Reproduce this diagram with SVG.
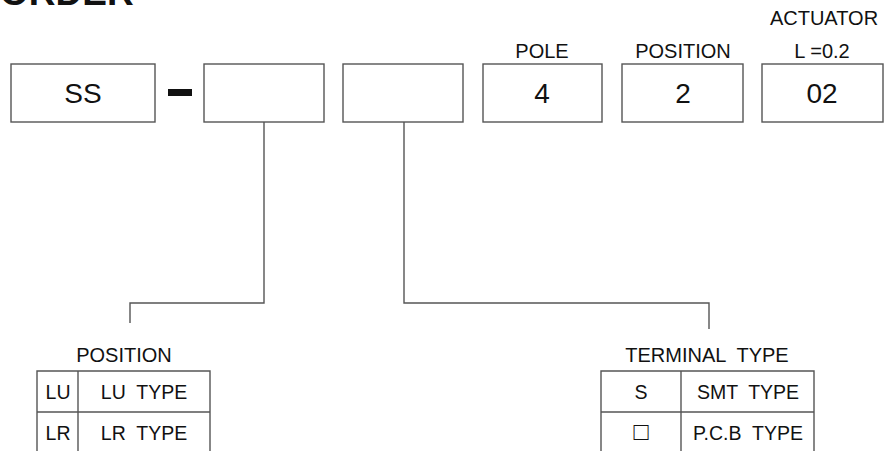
<svg xmlns="http://www.w3.org/2000/svg" width="885" height="451" viewBox="0 0 885 451">
<style>
.box{fill:#fff;stroke:#555;stroke-width:1.4}
.ln{fill:none;stroke:#555;stroke-width:1.4}
.big{font-family:"Liberation Sans",Arial,sans-serif;font-size:28px;fill:#111;text-anchor:middle}
.lbl{font-family:"Liberation Sans",Arial,sans-serif;font-size:20px;fill:#111;text-anchor:middle}
.tb{font-family:"Liberation Sans",Arial,sans-serif;font-size:19.5px;fill:#111;text-anchor:middle}
</style>
<rect width="885" height="451" fill="#fff"/>
<text x="0" y="5" font-family="Liberation Sans,Arial,sans-serif" font-size="37" font-weight="bold" fill="#111">ORDER</text>
<g id="box-ss"><rect class="box" x="11" y="64" width="144" height="58"/><text class="big" x="83" y="103">SS</text></g>
<g id="dash"><rect x="168" y="89" width="24" height="7" fill="#111"/></g>
<g id="box-position"><rect class="box" x="204" y="64" width="120" height="58"/></g>
<g id="box-terminal"><rect class="box" x="343" y="64" width="120" height="58"/></g>
<g id="box-pole"><text class="lbl" x="542" y="58">POLE</text><rect class="box" x="483" y="64" width="119" height="58"/><text class="big" x="542" y="103">4</text></g>
<g id="box-pos"><text class="lbl" x="683" y="58">POSITION</text><rect class="box" x="622" y="64" width="121" height="58"/><text class="big" x="683" y="103">2</text></g>
<g id="box-act"><text class="lbl" x="824" y="25">ACTUATOR</text><text class="lbl" x="822" y="58">L =0.2</text><rect class="box" x="762" y="64" width="121" height="58"/><text class="big" x="822" y="103">02</text></g>
<g id="connectors">
<polyline class="ln" points="264,122 264,303 130,303 130,323"/>
<polyline class="ln" points="404,122 404,303 709,303 709,329"/>
</g>
<g id="table-position">
<text class="lbl" x="124" y="362">POSITION</text>
<polyline class="ln" points="37,451 37,371 210,371 210,451"/>
<line class="ln" x1="78" y1="371" x2="78" y2="451"/>
<line class="ln" x1="37" y1="412" x2="210" y2="412"/>
<text class="tb" x="58" y="399">LU</text><text class="tb" x="144" y="399" xml:space="preserve">LU  TYPE</text>
<text class="tb" x="58" y="440">LR</text><text class="tb" x="144" y="440" xml:space="preserve">LR  TYPE</text>
</g>
<g id="table-terminal">
<text class="lbl" x="707" y="362" xml:space="preserve">TERMINAL  TYPE</text>
<polyline class="ln" points="601,451 601,371 814,371 814,451"/>
<line class="ln" x1="681" y1="371" x2="681" y2="451"/>
<line class="ln" x1="601" y1="412" x2="814" y2="412"/>
<text class="tb" x="641" y="399">S</text><text class="tb" x="748" y="399" xml:space="preserve">SMT  TYPE</text>
<text class="tb" x="641" y="440" style="font-size:25px">□</text><text class="tb" x="748" y="440" xml:space="preserve">P.C.B  TYPE</text>
</g>
</svg>
